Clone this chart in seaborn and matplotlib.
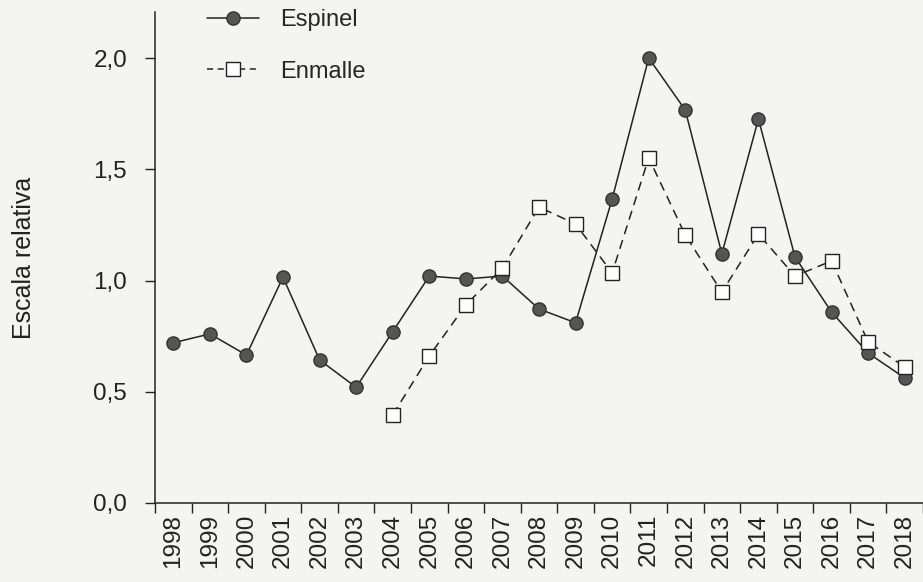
import matplotlib
matplotlib.use("Agg")
import matplotlib.pyplot as plt
import seaborn as sns
import pandas as pd
import numpy as np

years = [str(y) for y in range(1998, 2019)]
espinel = [0.72, 0.76, 0.665, 1.015, 0.643, 0.52, 0.77, 1.02, 1.007, 1.02,
           0.872, 0.81, 1.366, 2.0, 1.766, 1.12, 1.726, 1.106, 0.858, 0.674, 0.562]
enmalle_years = [str(y) for y in range(2004, 2019)]
enmalle = [0.396, 0.661, 0.89, 1.056, 1.33, 1.254, 1.034, 1.551, 1.204, 0.948,
           1.209, 1.02, 1.088, 0.724, 0.611]

sns.set_theme(style="ticks")
plt.rcParams['font.family'] = ['Liberation Sans', 'DejaVu Sans']

df_esp = pd.DataFrame({"pos": [years.index(y) for y in years], "val": espinel})
df_enm = pd.DataFrame({"pos": [years.index(y) for y in enmalle_years], "val": enmalle})

bg = "#f4f4f2"
fig = plt.figure(figsize=(9.23, 5.82), dpi=100, facecolor=bg)
ax = fig.add_axes([155/923, 1-503/582, 1-155/923, (503-12)/582])
ax.set_facecolor(bg)

sns.lineplot(data=df_esp, x="pos", y="val", ax=ax, color="#222222", lw=1.1,
             marker="o", markersize=9.5, markerfacecolor="#555555",
             markeredgecolor="#333333", markeredgewidth=1.0, label="Espinel")
sns.lineplot(data=df_enm, x="pos", y="val", ax=ax, color="#222222", lw=1.1,
             marker="s", markersize=9.5, markerfacecolor="white",
             markeredgecolor="#222222", markeredgewidth=1.0,
             dashes=False, label="Enmalle")
ax.lines[1].set_dashes([6, 4])

ax.set_xlim(-0.5, (923-174)/36.9)
ax.set_ylim(0, (503-12)/222.5)

ax.set_xticks(np.arange(-0.5, len(years), 1.0))
ax.set_xticklabels([])
ax.set_xticks(np.arange(len(years)), minor=True)
ax.set_xticklabels(years, minor=True, rotation=90, fontsize=17.5)
ax.tick_params(axis="x", which="major", length=7, width=1.0, direction="out", color="#222222")
ax.tick_params(axis="x", which="minor", length=0, pad=8)

yt = [0.0, 0.5, 1.0, 1.5, 2.0]
ax.set_yticks(yt)
ax.set_yticklabels([f"{v:.1f}".replace(".", ",") for v in yt], fontsize=17.5)
ax.tick_params(axis="y", length=7, width=1.0, direction="out", pad=13, color="#222222")

ax.set_xlabel("")
ax.set_ylabel("Escala relativa", fontsize=18, labelpad=41, color="#222222")

for s in ["top", "right"]:
    ax.spines[s].set_visible(False)
for s in ["left", "bottom"]:
    ax.spines[s].set_color("#222222")
    ax.spines[s].set_linewidth(1.1)

leg = ax.legend(loc="upper left", bbox_to_anchor=(0.068, 1.006), frameon=False,
                fontsize=17, handlelength=2.2, handletextpad=0.9,
                borderpad=0, borderaxespad=0, labelspacing=1.25)
leg.get_lines()[1].set_dashes([4, 3])

for t in ax.get_xticklabels(minor=True) + ax.get_yticklabels():
    t.set_color("#222222")

fig.savefig("out.png", dpi=100, facecolor=bg)
